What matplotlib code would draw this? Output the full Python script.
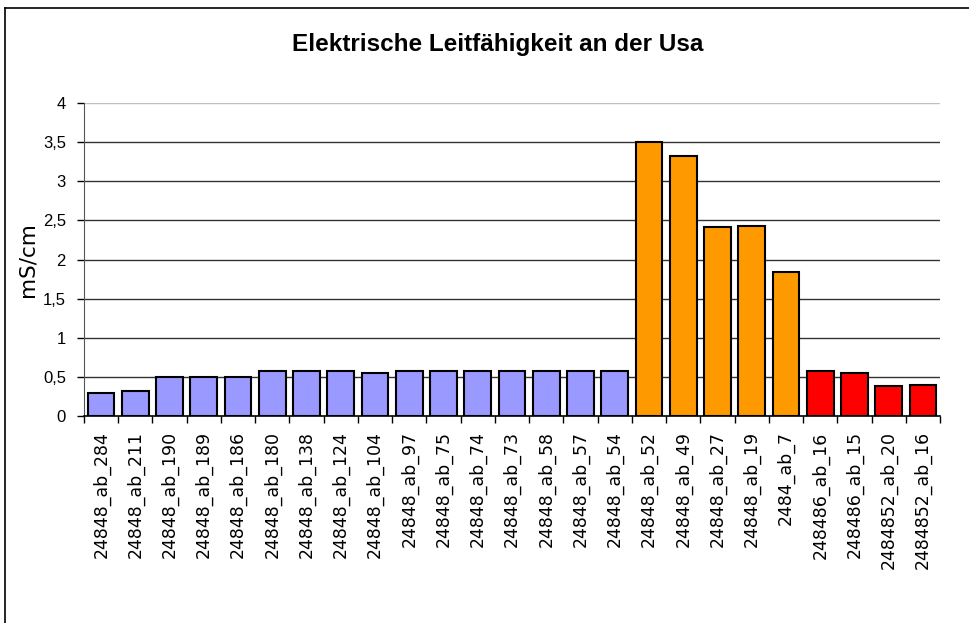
import matplotlib
matplotlib.use("Agg")
import matplotlib.pyplot as plt
from matplotlib.lines import Line2D
from matplotlib.ticker import FixedLocator, FuncFormatter

labels = ["24848_ab_284", "24848_ab_211", "24848_ab_190", "24848_ab_189", "24848_ab_186",
          "24848_ab_180", "24848_ab_138", "24848_ab_124", "24848_ab_104", "24848_ab_97",
          "24848_ab_75", "24848_ab_74", "24848_ab_73", "24848_ab_58", "24848_ab_57",
          "24848_ab_54", "24848_ab_52", "24848_ab_49", "24848_ab_27", "24848_ab_19",
          "2484_ab_7", "248486_ab_16", "248486_ab_15", "2484852_ab_20", "2484852_ab_16"]
values = [0.30, 0.32, 0.50, 0.50, 0.50, 0.57, 0.57, 0.57, 0.55, 0.57,
          0.57, 0.57, 0.57, 0.58, 0.58, 0.58, 3.50, 3.32, 2.42, 2.43,
          1.84, 0.57, 0.55, 0.38, 0.39]
groups = [0] * 16 + [1] * 5 + [2] * 4
group_colors = ["#9999FF", "#FF9900", "#FF0000"]
yticks = [0, 0.5, 1, 1.5, 2, 2.5, 3, 3.5, 4]

plt.rcParams['font.family'] = ['Liberation Sans', 'DejaVu Sans']

fig = plt.figure(figsize=(9.69, 6.23), dpi=100)
ax = fig.add_axes([84 / 969, 1 - 416 / 623, (940 - 84) / 969, (416 - 103) / 623])

x = list(range(len(values)))
ax.bar(x, values, width=0.78, color=[group_colors[g] for g in groups],
       edgecolor="black", linewidth=1.5, zorder=3)

for t in yticks[1:]:
    ax.axhline(t, color="#c0c0c0" if t == 4 else "#333333", linewidth=1.0, zorder=1)

ax.set_xlim(-0.5, len(values) - 0.5)
ax.set_ylim(0, 4)
ax.set_yticks(yticks)
ax.yaxis.set_major_formatter(FuncFormatter(lambda v, p: (f"{v:g}").replace(".", ",")))
ax.tick_params(axis="y", labelsize=12, length=5, width=1, direction="out", pad=8)

ax.set_xticks(x)
ax.set_xticklabels(labels, rotation=90, family="DejaVu Sans", fontsize=12.5)
ax.tick_params(axis="x", which="major", length=0, pad=11)
ax.xaxis.set_minor_locator(FixedLocator([i - 0.5 for i in range(len(values) + 1)]))
ax.tick_params(axis="x", which="minor", length=5, width=1, direction="out")

for s in ["top", "right"]:
    ax.spines[s].set_visible(False)
ax.spines["left"].set_color("#555555")
ax.spines["bottom"].set_color("black")
ax.spines["bottom"].set_linewidth(1.2)

ax.yaxis.set_label_coords(-57 / 856, (416 - 258) / 313)
ax.set_ylabel("mS/cm", fontsize=15.5, family="DejaVu Sans", va="center")

fig.text(498 / 969, 1 - 44 / 623, "Elektrische Leitfähigkeit an der Usa",
         ha="center", va="center", fontsize=17.5, fontweight="bold")

fig.add_artist(Line2D([4.5 / 969, 4.5 / 969], [0, 1 - 8 / 623], transform=fig.transFigure,
                      color="black", linewidth=1.2))
fig.add_artist(Line2D([4.5 / 969, 1], [1 - 8 / 623, 1 - 8 / 623], transform=fig.transFigure,
                      color="black", linewidth=1.2))

fig.savefig("out.png", dpi=100)
